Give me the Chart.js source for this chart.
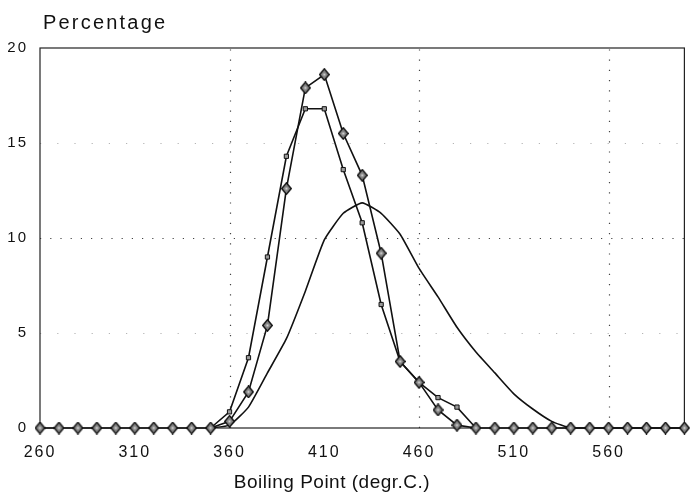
<!DOCTYPE html>
<html>
<head>
<meta charset="utf-8">
<script src="https://cdn.jsdelivr.net/npm/chart.js@4"></script>
<style>
  html, body { margin: 0; padding: 0; background: #fff; }
  #wrap { width: 690px; height: 500px; }
</style>
</head>
<body>
<div id="wrap"><canvas id="myChart" width="690" height="500"></canvas></div>
<script>
// boiling point grid (degr.C.)
const boilingPoints = [260, 270, 280, 290, 300, 310, 320, 330, 340, 350,
                       360, 370, 380, 390, 400, 410, 420, 430, 440, 450,
                       460, 470, 480, 490, 500, 510, 520, 530, 540, 550,
                       560, 570, 580, 590, 600];

// measured distribution (diamonds)
const measured = [0, 0, 0, 0, 0, 0, 0, 0, 0, 0,
                  0.35, 1.9, 5.4, 12.6, 17.9, 18.6, 15.5, 13.3, 9.2, 3.5,
                  2.4, 0.95, 0.15, 0, 0, 0, 0, 0, 0, 0,
                  0, 0, 0, 0, 0];

// second distribution (small squares)
const simulated = [null, null, null, null, null, null, null, null, null, 0,
                   0.85, 3.7, 9.0, 14.3, 16.8, 16.8, 13.6, 10.8, 6.5, 3.5,
                   2.4, 1.6, 1.1, 0, null, null, null, null, null, null,
                   null, null, null, null, null];

// fitted curve, no markers
const fitted = [null, null, null, null, null, null, null, null, null, 0,
                0.15, 1.1, 2.9, 4.7, 7.2, 9.9, 11.3, 11.85, 11.3, 10.2,
                8.4, 6.9, 5.3, 4.0, 2.9, 1.8, 1.0, 0.35, 0, 0,
                0, 0, 0, 0, 0];

const xTicks = [260, 310, 360, 410, 460, 510, 560];
const yTicks = [0, 5, 10, 15, 20];
const xGrid = [360, 460, 560];

const FONT = '"Liberation Sans", Arial, sans-serif';

function toPoints(values) {
    return boilingPoints.map((x, i) => ({ x: x, y: values[i] }));
}

// diamond marker, a bit taller than wide
function makeDiamond() {
    const c = document.createElement('canvas');
    c.width = 11;
    c.height = 13;
    const g = c.getContext('2d');
    g.beginPath();
    g.moveTo(5.5, 0.8);
    g.lineTo(10.2, 6.5);
    g.lineTo(5.5, 12.2);
    g.lineTo(0.8, 6.5);
    g.closePath();
    g.fillStyle = '#858585';
    g.fill();
    g.lineWidth = 1.4;
    g.strokeStyle = '#111';
    g.stroke();
    g.fillStyle = '#d8d8d8';
    g.fillRect(4.5, 5.5, 2, 2);
    return c;
}

// dotted grid lines, drawn under the series
function dottedGrid(chart) {
    const ctx = chart.ctx;
    const a = chart.chartArea;
    const xs = chart.scales.x;
    const ys = chart.scales.y;
    ctx.save();
    ctx.lineWidth = 1.2;
    ctx.setLineDash([1.2, 9]);
    ctx.strokeStyle = '#444';
    xGrid.forEach(v => {
        const px = Math.round(xs.getPixelForValue(v)) + 0.5;
        ctx.beginPath();
        ctx.moveTo(px, a.bottom);
        ctx.lineTo(px, a.top);
        ctx.stroke();
    });
    yTicks.forEach(v => {
        if (v === 0 || v === 20) return;
        ctx.strokeStyle = v === 10 ? '#444' : '#b5b5b5';
        ctx.setLineDash(v === 10 ? [1.2, 9] : [1.2, 16]);
        const py = Math.round(ys.getPixelForValue(v)) + 0.5;
        ctx.beginPath();
        ctx.moveTo(a.left, py);
        ctx.lineTo(a.right, py);
        ctx.stroke();
    });
    ctx.restore();
}

const framePlugin = {
    id: 'frame',
    beforeDraw(chart) {
        chart.ctx.letterSpacing = '2px';
    },
    beforeDatasetsDraw(chart) {
        const ctx = chart.ctx;
        const a = chart.chartArea;
        ctx.letterSpacing = '0px';
        dottedGrid(chart);
        ctx.save();
        ctx.strokeStyle = '#222';
        ctx.lineWidth = 1.2;
        ctx.strokeRect(a.left, a.top, a.right - a.left, a.bottom - a.top);
        ctx.restore();
    },
    afterDraw(chart) {
        const ctx = chart.ctx;
        ctx.save();
        ctx.fillStyle = '#111';
        ctx.textBaseline = 'alphabetic';
        ctx.textAlign = 'left';
        ctx.font = '20px ' + FONT;
        ctx.letterSpacing = '2.2px';
        ctx.fillText('Percentage', 43, 29);
        ctx.textAlign = 'center';
        ctx.font = '19px ' + FONT;
        ctx.letterSpacing = '0.5px';
        ctx.fillText('Boiling Point (degr.C.)', 332, 488);
        ctx.restore();
        ctx.letterSpacing = '0px';
    }
};

const ctx = document.getElementById('myChart').getContext('2d');

const myChart = new Chart(ctx, {
    type: 'line',
    data: {
        datasets: [
            {
                label: 'Fitted',
                data: toPoints(fitted),
                borderColor: '#111',
                borderWidth: 1.6,
                pointRadius: 0,
                tension: 0.15,
                clip: false,
                order: 3
            },
            {
                label: 'Simulated',
                data: toPoints(simulated),
                borderColor: '#111',
                borderWidth: 1.6,
                pointStyle: 'rect',
                pointRadius: 3,
                pointBackgroundColor: '#9a9a9a',
                pointBorderColor: '#111',
                pointBorderWidth: 1,
                tension: 0,
                clip: false,
                order: 2
            },
            {
                label: 'Measured',
                data: toPoints(measured),
                borderColor: '#111',
                borderWidth: 1.6,
                pointStyle: makeDiamond(),
                tension: 0,
                clip: false,
                order: 1
            }
        ]
    },
    options: {
        responsive: false,
        animation: false,
        layout: { padding: { left: 0, right: 2, top: 48, bottom: 0 } },
        plugins: {
            legend: { display: false },
            tooltip: { enabled: false }
        },
        scales: {
            x: {
                type: 'linear',
                min: 260,
                max: 600,
                afterFit(scale) { scale.height = 72; },
                afterBuildTicks(scale) {
                    scale.ticks = xTicks.map(v => ({ value: v }));
                },
                border: { display: false },
                grid: { display: false },
                ticks: {
                    color: '#111',
                    padding: 7,
                    maxRotation: 0,
                    autoSkip: false,
                    font: { family: FONT, size: 16 }
                }
            },
            y: {
                min: 0,
                max: 20,
                afterFit(scale) { scale.width = 40; },
                afterBuildTicks(scale) {
                    scale.ticks = yTicks.map(v => ({ value: v }));
                },
                border: { display: false },
                grid: { display: false },
                ticks: {
                    color: '#111',
                    padding: 4,
                    font: { family: FONT, size: 15 }
                }
            }
        }
    },
    plugins: [framePlugin]
});
</script>
</body>
</html>
